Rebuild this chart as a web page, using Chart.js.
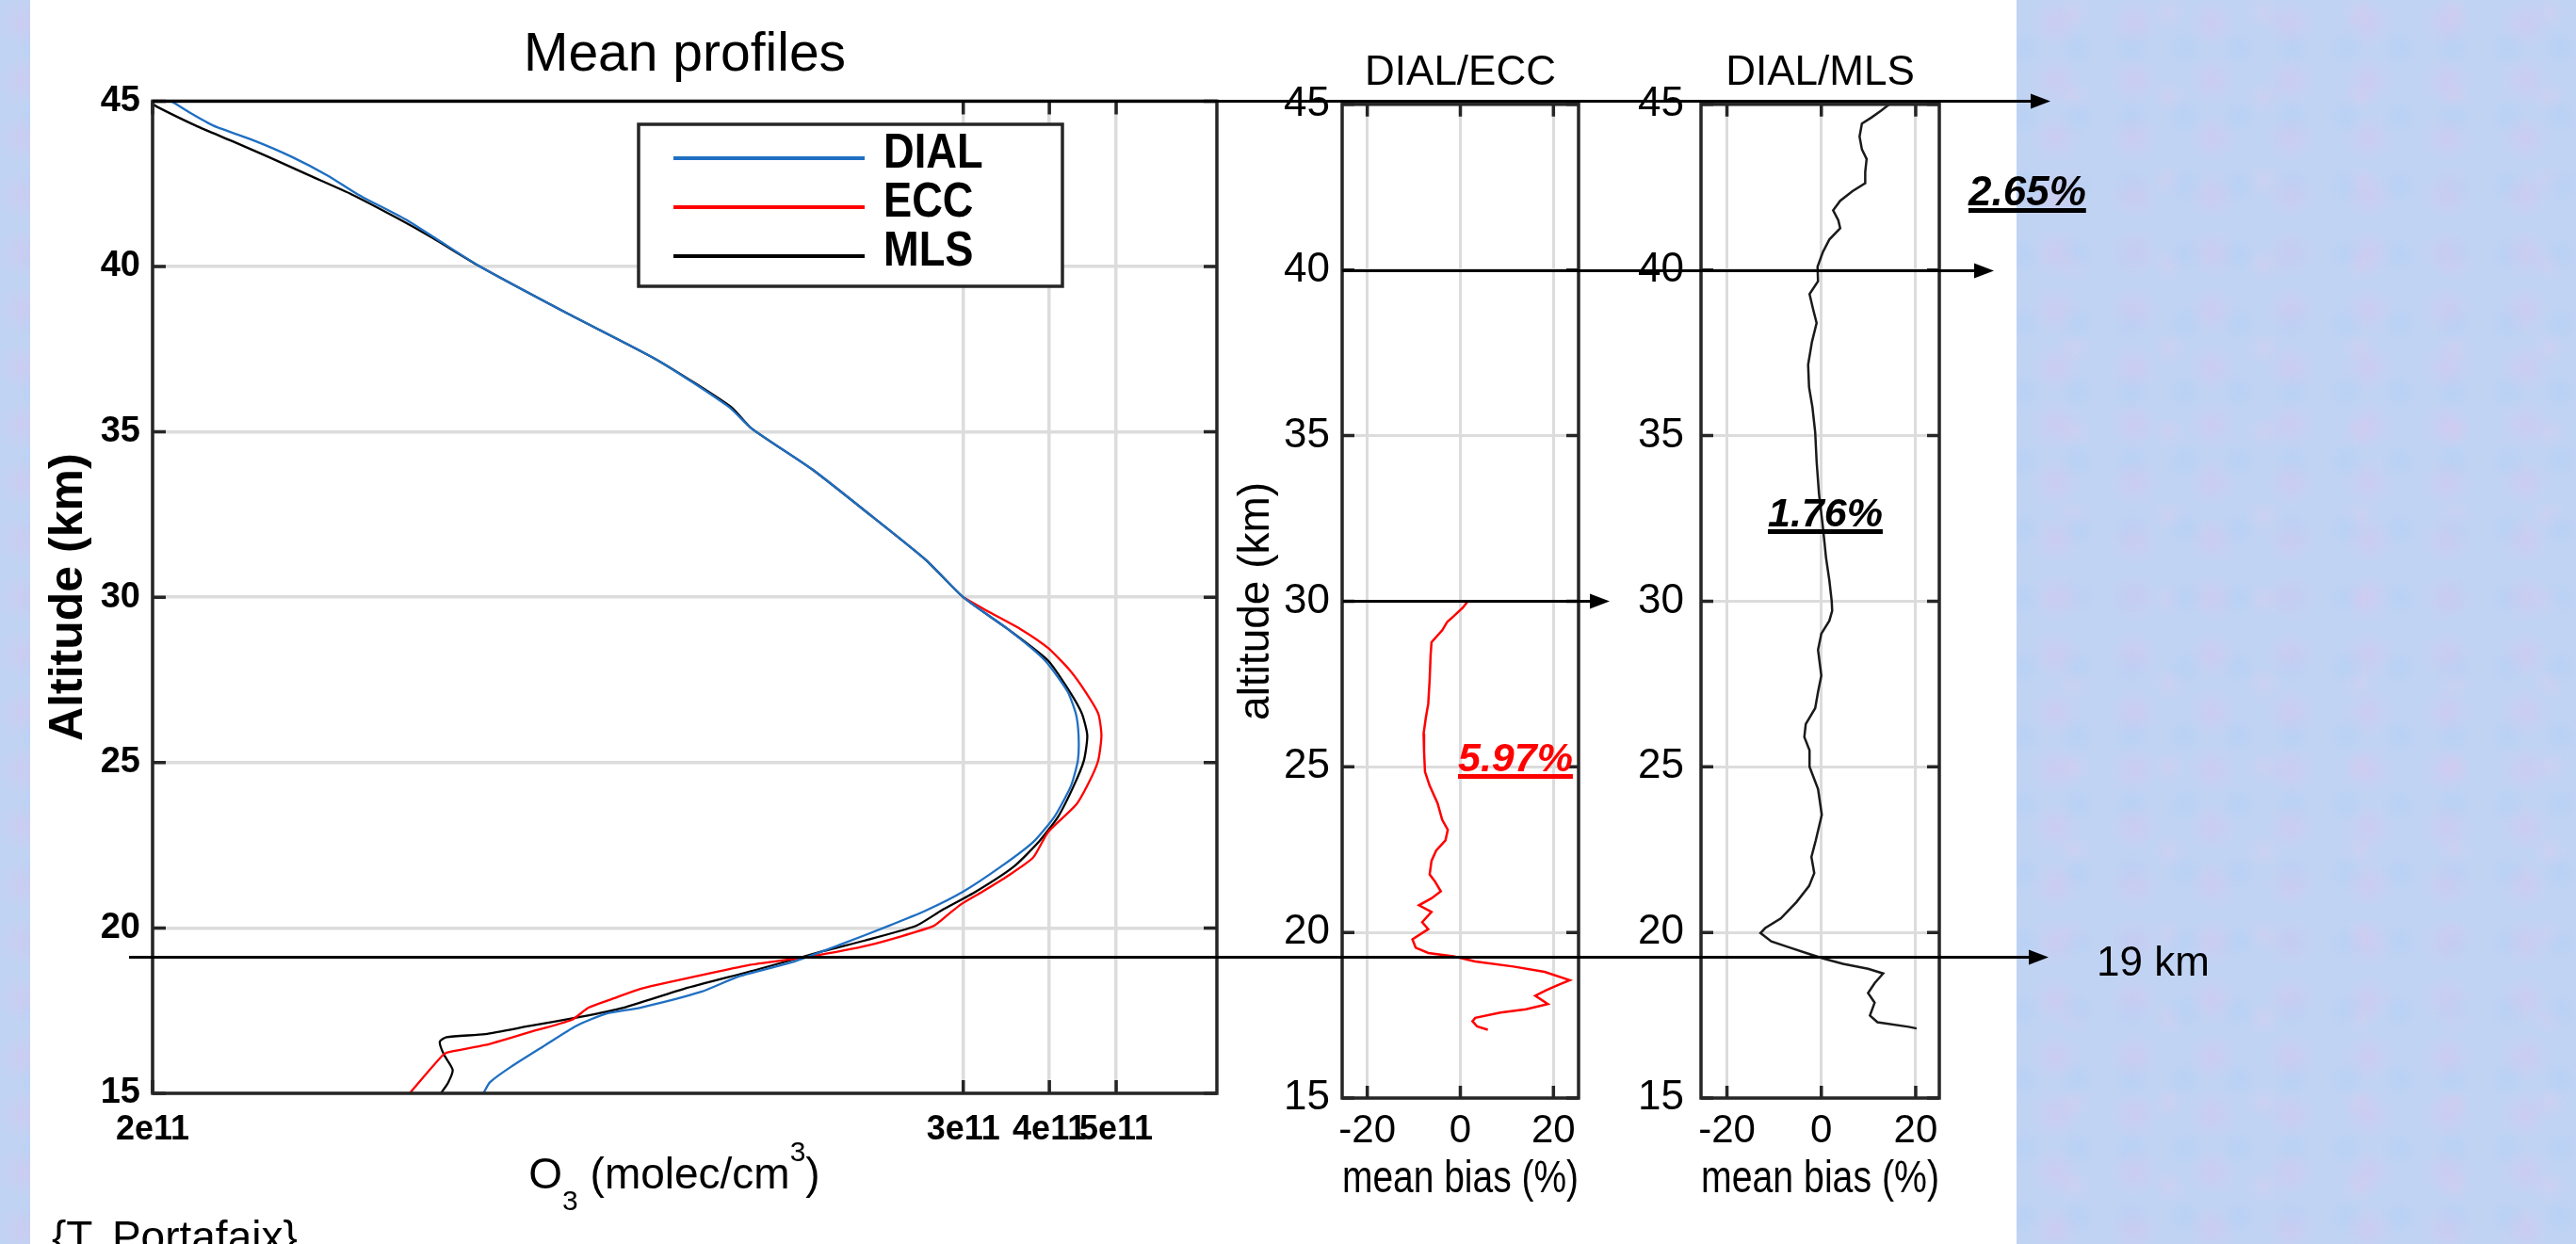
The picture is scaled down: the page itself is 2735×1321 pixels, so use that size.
<!DOCTYPE html>
<html>
<head>
<meta charset="utf-8">
<title>Mean profiles DIAL / ECC / MLS</title>
<script src="https://cdn.jsdelivr.net/npm/chart.js@4.4.1/dist/chart.umd.min.js"></script>
<style>
  html, body { margin: 0; padding: 0; }
  body {
    width: 2735px; height: 1321px; overflow: hidden; position: relative;
    font-family: "Liberation Sans", Arial, sans-serif;
    background-color: #c1d3f3;
    background-image:
      radial-gradient(circle at 30% 40%, rgba(214, 196, 238, .45) 0, rgba(214, 196, 238, 0) 26px),
      radial-gradient(circle at 70% 70%, rgba(176, 208, 246, .5) 0, rgba(176, 208, 246, 0) 22px),
      radial-gradient(circle at 80% 15%, rgba(222, 204, 238, .35) 0, rgba(222, 204, 238, 0) 18px);
    background-size: 83px 61px, 57px 73px, 101px 89px;
  }
  #sheet { position: absolute; left: 32px; top: 0; width: 2109px; height: 1321px; background: #fff; }
  canvas { position: absolute; top: 0; }
  .note { position: absolute; white-space: nowrap; line-height: 1; color: #000; }
  .pct {
    font-weight: bold; font-style: italic;
    text-decoration: underline; text-decoration-thickness: 5px; text-underline-offset: 3px;
  }
</style>
</head>
<body>
<div id="sheet"></div>
<canvas id="mainChart" width="1300" height="1321" style="left:0px"></canvas>
<canvas id="eccChart" width="400" height="1321" style="left:1290px"></canvas>
<canvas id="mlsChart" width="340" height="1321" style="left:1740px"></canvas>
<canvas id="arrows" width="2735" height="1321" style="left:0px"></canvas>

<div class="note pct" style="left:2090px; top:181px; font-size:44px;">2.65%</div>
<div class="note pct" style="left:1877px; top:523px; font-size:43px;">1.76%</div>
<div class="note pct" style="left:1548px; top:783px; font-size:43px; color:#ff0000;">5.97%</div>
<div class="note" style="left:2226px; top:999px; font-size:44px;">19 km</div>
<div class="note" style="left:55px; top:1290px; font-size:46px;">{T. Portafaix}</div>

<script>
var FONT = '"Liberation Sans", Arial, sans-serif';

// mean ozone profiles: altitude (km) and number density (molec/cm3)
var dialAlt = [45.0, 44.64, 44.26, 43.79, 43.32, 42.75, 42.18, 41.43, 40.86, 40.0, 38.59, 37.17, 35.76, 35.1,
  33.87, 32.45, 31.12, 30.0, 29.04, 28.09, 27.15, 26.48, 25.82, 25.07, 24.3, 23.37, 22.6, 21.85, 21.1, 20.53,
  20.05, 19.48, 18.96, 18.54, 18.07, 17.59, 17.41, 17.03, 16.46, 15.8, 15.33, 15.0];
var dialO3 = [2.13e10, 2.27e10, 2.45e10, 2.82e10, 3.18e10, 3.59e10, 3.97e10, 4.65e10, 5.14e10, 5.97e10, 7.98e10,
  1.08e11, 1.37e11, 1.48e11, 1.81e11, 2.21e11, 2.65e11, 3.0e11, 3.48e11, 3.94e11, 4.25e11, 4.37e11, 4.41e11,
  4.40e11, 4.30e11, 4.07e11, 3.79e11, 3.40e11, 3.0e11, 2.65e11, 2.33e11, 1.98e11, 1.69e11, 1.42e11, 1.25e11,
  1.02e11, 9.1e10, 8.22e10, 7.43e10, 6.62e10, 6.17e10, 6.04e10];

var eccAlt = [30.0, 29.6, 29.04, 28.47, 27.8, 27.15, 26.48, 25.82, 25.07, 24.5, 23.74, 22.89, 22.13, 21.57,
  21.1, 20.72, 20.4, 20.05, 19.48, 19.13, 18.87, 18.54, 18.16, 17.88, 17.59, 17.22, 16.84, 16.46, 16.23,
  16.13, 15.61, 15.0];
var eccO3 = [3.0e11, 3.24e11, 3.63e11, 3.98e11, 4.28e11, 4.51e11, 4.71e11, 4.76e11, 4.71e11, 4.59e11, 4.38e11,
  3.98e11, 3.79e11, 3.48e11, 3.20e11, 2.98e11, 2.85e11, 2.71e11, 2.19e11, 1.79e11, 1.46e11, 1.23e11, 1.02e11,
  9.36e10, 8.58e10, 8.11e10, 7.02e10, 6.08e10, 5.34e10, 5.26e10, 5.0e10, 4.72e10];

var mlsAlt = [45.0, 44.83, 44.26, 43.79, 43.32, 42.75, 42.18, 41.43, 40.86, 40.0, 38.59, 37.17, 35.76, 35.1,
  33.87, 32.45, 31.12, 30.0, 29.04, 28.09, 27.15, 26.48, 25.82, 25.07, 24.3, 23.37, 22.6, 21.85, 21.1, 20.53,
  20.06, 19.62, 19.3, 18.73, 18.16, 17.59, 17.31, 17.03, 16.79, 16.7, 16.56, 16.18, 15.71, 15.33, 15.0];
var mlsO3 = [1.97e10, 2.03e10, 2.31e10, 2.61e10, 2.94e10, 3.38e10, 3.89e10, 4.56e10, 5.10e10, 5.97e10, 7.98e10,
  1.08e11, 1.38e11, 1.48e11, 1.81e11, 2.21e11, 2.65e11, 3.0e11, 3.48e11, 3.98e11, 4.28e11, 4.46e11, 4.54e11,
  4.49e11, 4.34e11, 4.12e11, 3.86e11, 3.55e11, 3.13e11, 2.79e11, 2.56e11, 2.16e11, 1.88e11, 1.50e11, 1.18e11,
  9.64e10, 8.34e10, 7.02e10, 6.08e10, 5.34e10, 5.22e10, 5.29e10, 5.45e10, 5.37e10, 5.24e10];

// mean bias DIAL/ECC (%)
var biasEccAlt = [30.0, 29.8, 29.54, 29.38, 29.12, 28.76, 28.35, 27.63, 26.9, 26.5, 26.0, 25.46, 24.85, 24.43,
  23.9, 23.4, 23.1, 22.78, 22.47, 22.16, 21.75, 21.55, 21.24, 21.03, 20.82, 20.62, 20.31, 20.1, 19.79, 19.54,
  19.38, 19.28, 19.12, 18.97, 18.81, 18.56, 18.4, 18.25, 18.09, 17.84, 17.68, 17.58, 17.42, 17.32, 17.16, 17.06];
var biasEcc = [1.6, 0.5, -1.5, -2.8, -3.9, -6.2, -6.4, -6.6, -6.9, -7.4, -7.9, -7.8, -7.6, -6.6, -4.9, -3.9,
  -2.7, -3.2, -5.2, -6.2, -6.6, -5.5, -4.2, -6.2, -8.9, -6.2, -8.2, -6.9, -10.3, -9.6, -6.9, -1.5, 3.2, 11.4,
  18.1, 23.5, 20.8, 18.4, 16.1, 18.8, 14.1, 8.6, 3.2, 2.6, 3.6, 5.9];

// mean bias DIAL/MLS (%)
var biasMlsAlt = [45.0, 44.8, 44.6, 44.42, 44.03, 43.64, 43.35, 42.96, 42.62, 42.38, 42.09, 41.8, 41.5, 41.26,
  40.92, 40.53, 40.1, 39.66, 39.27, 38.79, 38.4, 37.82, 37.14, 36.46, 35.87, 35.1, 34.22, 33.25, 32.28, 31.31,
  30.63, 30.0, 29.71, 29.41, 29.02, 28.53, 27.75, 27.26, 26.77, 26.29, 25.9, 25.5, 25.0, 24.33, 23.55, 22.77,
  22.28, 21.79, 21.4, 20.91, 20.42, 20.13, 19.98, 19.73, 19.54, 19.35, 19.2, 19.05, 18.9, 18.76, 18.47, 18.17,
  17.88, 17.49, 17.29, 17.15, 17.1];
var biasMls = [14.4, 12.6, 10.6, 8.6, 8.1, 8.6, 9.6, 9.3, 9.3, 6.6, 4.0, 2.5, 3.6, 4.0, 1.7, 0.3, -0.8, -0.7,
  -2.5, -1.7, -1.0, -2.0, -2.8, -2.6, -1.9, -1.3, -1.0, -0.5, 0.3, 1.0, 1.7, 2.2, 2.3, 1.7, 0.0, -0.7, 0.0,
  -0.7, -1.3, -3.3, -3.6, -2.5, -2.5, -0.7, 0.1, -1.2, -2.1, -1.5, -2.6, -5.3, -8.6, -11.9, -12.9, -10.6, -6.6,
  -2.6, 0.7, 4.6, 9.9, 13.1, 11.3, 9.9, 11.3, 10.3, 11.9, 18.5, 20.2];

// axes
var altTicks = [15, 20, 25, 30, 35, 40, 45];
var o3Ticks = [2e10, 3e11, 4e11, 5e11];
var o3TickLabels = ['2e11', '3e11', '4e11', '5e11'];
var biasTicks = [-20, 0, 20];

Chart.defaults.font.family = FONT;
Chart.defaults.color = '#000';

function toPoints(xs, ys) {
  return xs.map(function(x, i) { return { x: x, y: ys[i] }; });
}

function fixedTicks(values) {
  return function(scale) {
    scale.ticks = values.map(function(v) { return { value: v }; });
  };
}

// box round the plot area with small inward ticks (matlab style)
var frameTicks = {
  id: 'frameTicks',
  afterDatasetsDraw: function(chart, args, opts) {
    var ctx = chart.ctx, a = chart.chartArea, sx = chart.scales.x, sy = chart.scales.y;
    ctx.save();
    ctx.strokeStyle = '#262626';
    ctx.lineWidth = opts.width;
    ctx.beginPath();
    sy.ticks.forEach(function(t) {
      var py = sy.getPixelForValue(t.value);
      ctx.moveTo(a.left, py); ctx.lineTo(a.left + opts.len, py);
      ctx.moveTo(a.right, py); ctx.lineTo(a.right - opts.len, py);
    });
    sx.ticks.forEach(function(t) {
      var px = sx.getPixelForValue(t.value);
      ctx.moveTo(px, a.bottom); ctx.lineTo(px, a.bottom - opts.len);
      ctx.moveTo(px, a.top); ctx.lineTo(px, a.top + opts.len);
    });
    ctx.stroke();
    ctx.strokeRect(a.left, a.top, a.right - a.left, a.bottom - a.top);
    ctx.restore();
  }
};

// legend in a framed box inside the plot
var boxLegend = {
  id: 'boxLegend',
  afterDraw: function(chart, args, o) {
    var ctx = chart.ctx;
    ctx.save();
    ctx.fillStyle = '#fff';
    ctx.fillRect(o.x, o.y, o.w, o.h);
    ctx.strokeStyle = '#262626';
    ctx.lineWidth = 3.5;
    ctx.strokeRect(o.x, o.y, o.w, o.h);
    chart.data.datasets.forEach(function(ds, i) {
      var y = o.y + o.first + i * o.step;
      ctx.strokeStyle = ds.borderColor;
      ctx.lineWidth = 4;
      ctx.beginPath();
      ctx.moveTo(o.x + o.lineFrom, y);
      ctx.lineTo(o.x + o.lineTo, y);
      ctx.stroke();
      ctx.save();
      ctx.translate(o.x + o.textX, y - 4);
      ctx.scale(0.87, 1);
      ctx.fillStyle = '#000';
      ctx.font = 'bold 52px ' + FONT;
      ctx.textBaseline = 'middle';
      ctx.fillText(ds.label, 0, 0);
      ctx.restore();
    });
    ctx.restore();
  }
};

// x axis title with sub- and superscript
var o3Title = {
  id: 'o3Title',
  afterDraw: function(chart, args, o) {
    var ctx = chart.ctx, a = chart.chartArea;
    var parts = [
      { t: 'O', size: 46, dy: 0 },
      { t: '3', size: 30, dy: 23 },
      { t: ' (molec/cm', size: 46, dy: 0 },
      { t: '3', size: 30, dy: -29 },
      { t: ')', size: 46, dy: 0 }
    ];
    ctx.save();
    ctx.fillStyle = '#000';
    ctx.textBaseline = 'alphabetic';
    var total = 0;
    parts.forEach(function(p) {
      ctx.font = p.size + 'px ' + FONT;
      p.w = ctx.measureText(p.t).width;
      total += p.w;
    });
    var x = (a.left + a.right) / 2 + o.shift - total / 2;
    parts.forEach(function(p) {
      ctx.font = p.size + 'px ' + FONT;
      ctx.fillText(p.t, x, o.baseline + p.dy);
      x += p.w;
    });
    ctx.restore();
  }
};

var mainChart = new Chart(document.getElementById('mainChart'), {
  type: 'scatter',
  data: {
    datasets: [
      { label: 'DIAL', data: toPoints(dialO3, dialAlt), borderColor: '#1f6fc2' },
      { label: 'ECC', data: toPoints(eccO3, eccAlt), borderColor: '#ff0000' },
      { label: 'MLS', data: toPoints(mlsO3, mlsAlt), borderColor: '#000000' }
    ]
  },
  options: {
    responsive: false,
    animation: false,
    layout: { padding: { left: 0, right: 8, top: 0, bottom: 0 } },
    datasets: { scatter: { showLine: true, pointRadius: 0, borderWidth: 2.3, tension: 0.2 } },
    plugins: {
      legend: { display: false },
      tooltip: { enabled: false },
      title: {
        display: true, text: 'Mean profiles', fullSize: false, color: '#000',
        font: { size: 57, weight: 'normal' }, padding: { top: 25, bottom: 14 }
      },
      frameTicks: { width: 3.5, len: 14 },
      boxLegend: { x: 678, y: 132, w: 450, h: 172, first: 36, step: 52, lineFrom: 37, lineTo: 240, textX: 260 },
      o3Title: { baseline: 1262, shift: -11 }
    },
    scales: {
      x: {
        type: 'logarithmic', min: 2e10, max: 7e11,
        afterBuildTicks: fixedTicks(o3Ticks),
        afterFit: function(s) { s.height = 160; },
        border: { display: false },
        grid: { color: '#dcdcdc', lineWidth: 3.5, drawTicks: false },
        ticks: {
          autoSkip: false, maxRotation: 0, padding: 17, color: '#000',
          font: { size: 36, weight: 'bold' },
          callback: function(v) { return o3TickLabels[o3Ticks.indexOf(v)]; }
        }
      },
      y: {
        min: 15, max: 45,
        afterBuildTicks: fixedTicks(altTicks),
        afterFit: function(s) { s.width = 162; },
        border: { display: false },
        grid: { color: '#dcdcdc', lineWidth: 3.5, drawTicks: false },
        ticks: { padding: 13, color: '#000', font: { size: 38, weight: 'bold' } },
        title: {
          display: true, text: 'Altitude (km)', color: '#000',
          font: { size: 50, weight: 'bold' }, padding: { top: 43, bottom: 0 }
        }
      }
    }
  },
  plugins: [frameTicks, boxLegend, o3Title]
});

function biasChart(id, title, alts, values, color, opts) {
  return new Chart(document.getElementById(id), {
    type: 'scatter',
    data: { datasets: [{ label: title, data: toPoints(values, alts), borderColor: color }] },
    options: {
      responsive: false,
      animation: false,
      layout: { padding: { left: 0, right: opts.right, top: 0, bottom: 0 } },
      datasets: { scatter: { showLine: true, pointRadius: 0, borderWidth: 2.5, tension: 0 } },
      plugins: {
        legend: { display: false },
        tooltip: { enabled: false },
        title: {
          display: true, text: title, fullSize: false, color: '#000',
          font: { size: 44, weight: 'normal' }, padding: { top: 51, bottom: 7 }
        },
        frameTicks: { width: 3.5, len: 13 }
      },
      scales: {
        x: {
          min: opts.xmin, max: opts.xmax,
          afterBuildTicks: fixedTicks(biasTicks),
          afterFit: function(s) { s.height = 155; },
          border: { display: false },
          grid: { color: '#dcdcdc', lineWidth: 3, drawTicks: false },
          ticks: { autoSkip: false, maxRotation: 0, padding: 10, color: '#000', font: { size: 42 } },
          title: {
            display: true, text: 'mean bias (%)', color: '#000',
            font: { size: 48 }, padding: { top: 0, bottom: 39 }
          }
        },
        y: {
          min: 15, max: 45,
          afterBuildTicks: fixedTicks(altTicks),
          afterFit: function(s) { s.width = opts.yWidth; },
          border: { display: false },
          grid: { color: '#dcdcdc', lineWidth: 3, drawTicks: false },
          ticks: { padding: opts.tickPad, color: '#000', font: { size: 44 } },
          title: {
            display: opts.yTitle, text: 'altitude (km)', color: '#000',
            font: { size: 46 }, padding: { top: 17, bottom: 0 }
          }
        }
      }
    },
    plugins: [frameTicks]
  });
}

var eccChart = biasChart('eccChart', 'DIAL/ECC', biasEccAlt, biasEcc, '#ff0000',
  { right: 14, xmin: -25.4, xmax: 25.4, yWidth: 135, tickPad: 13, yTitle: true });
var mlsChart = biasChart('mlsChart', 'DIAL/MLS', biasMlsAlt, biasMls, '#1a1a1a',
  { right: 21, xmin: -25.5, xmax: 25, yWidth: 66, tickPad: 18, yTitle: false });

// horizontal reference arrows across the panels
var arrowLines = [
  { alt: 45, from: 162, to: 2177, ref: mainChart },
  { alt: 40, from: 1425, to: 2117, ref: eccChart },
  { alt: 30, from: 1426, to: 1709, ref: eccChart },
  { alt: 19.13, from: 137, to: 2175, ref: mainChart }
];

(function drawArrows() {
  var ctx = document.getElementById('arrows').getContext('2d');
  ctx.strokeStyle = '#000';
  ctx.fillStyle = '#000';
  ctx.lineWidth = 3;
  arrowLines.forEach(function(a) {
    var y = Math.round(a.ref.scales.y.getPixelForValue(a.alt)) + 0.5;
    ctx.beginPath();
    ctx.moveTo(a.from, y);
    ctx.lineTo(a.to - 18, y);
    ctx.stroke();
    ctx.beginPath();
    ctx.moveTo(a.to, y);
    ctx.lineTo(a.to - 21, y - 8);
    ctx.lineTo(a.to - 21, y + 8);
    ctx.closePath();
    ctx.fill();
  });
})();
</script>
</body>
</html>
